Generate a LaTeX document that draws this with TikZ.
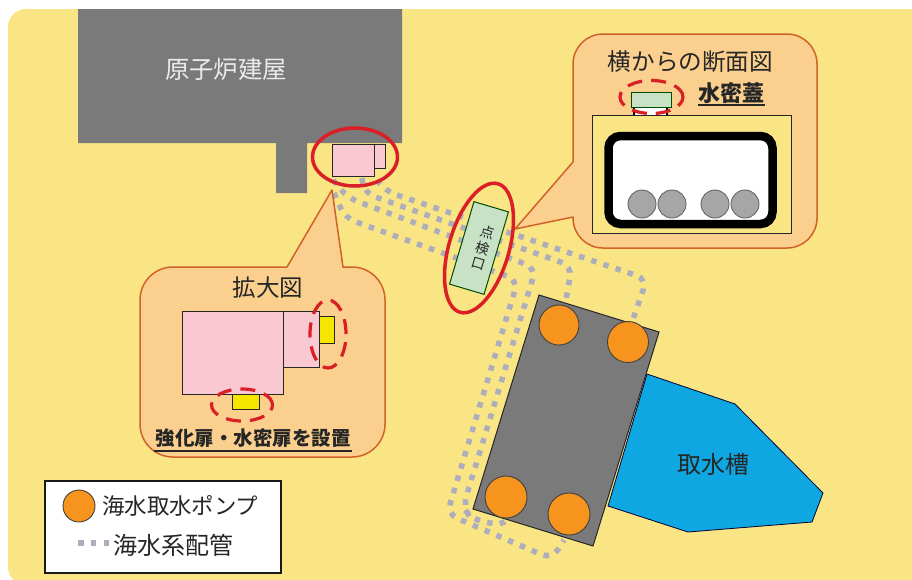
\documentclass[tikz,border=0pt]{standalone}
\usepackage{fontspec}
\setmainfont{Noto Sans CJK JP}
\usetikzlibrary{shapes.geometric}
\definecolor{bgyellow}{HTML}{F9E584}
\definecolor{bldgray}{HTML}{7A7A7A}
\definecolor{calloutfill}{HTML}{FBD08F}
\definecolor{calloutline}{HTML}{D2622A}
\definecolor{alarmred}{HTML}{DA1F26}
\definecolor{pinkroom}{HTML}{F9C8D0}
\definecolor{doorgold}{HTML}{F5E600}
\definecolor{hatchgreen}{HTML}{C8E2C6}
\definecolor{pumporange}{HTML}{F7941D}
\definecolor{pipegray}{HTML}{ADADBC}
\definecolor{waterblue}{HTML}{0FA7E2}
\definecolor{pipeball}{HTML}{A6A6A6}
\tikzset{
  txt/.style={inner sep=0pt,font=\fontsize{#1}{#1}\selectfont,text=black!85},
  pipeline/.style={draw=pipegray,line width=5.5pt,dash pattern=on 5.5pt off 7.3pt,rounded corners=11pt},
  callout/.style={draw=calloutline,fill=calloutfill,line width=1.5pt,line join=round},
  roomline/.style={draw=black!85,line width=1pt,fill=pinkroom},
  doorbox/.style={draw=black!85,line width=.8pt,fill=doorgold},
  redring/.style={ellipse,draw=alarmred,line width=3.5pt,inner sep=0pt},
  reddash/.style={ellipse,draw=alarmred,line width=3.2pt,inner sep=0pt,dash pattern=on 15pt off 9pt},
  pumpdot/.style={circle,draw=black!75,line width=.9pt,fill=pumporange,inner sep=0pt},
  ball/.style={circle,draw=black!60,line width=.9pt,fill=pipeball,inner sep=0pt,minimum size=28pt},
}
\begin{document}
\begin{tikzpicture}[x=1pt,y=-1pt]
\useasboundingbox (0,0) rectangle (912,579);
% ground
\fill[bgyellow,rounded corners=18pt] (8,9) rectangle (930,585);
% reactor building
\fill[bldgray] (78,9) -- (402,9) -- (402,143) -- (307,143) -- (307,193) -- (276,193) -- (276,143) -- (78,143) -- cycle;
\node[txt=24.4,text=white!92!black] (bldlabel) at (226,69) {原子炉建屋};
% pipes
\coordinate (p1a) at (377,180); \coordinate (p1b) at (385,191); \coordinate (p1c) at (647,279); \coordinate (p1d) at (632,322);
\coordinate (p2a) at (362,178); \coordinate (p2b) at (364,193); \coordinate (p2c) at (572,266); \coordinate (p2d) at (565,305);
\coordinate (p3a) at (333,180); \coordinate (p3b) at (348,198); \coordinate (p3c) at (536,268); \coordinate (p3d) at (463,507); \coordinate (p3e) at (471,519); \coordinate (p3f) at (505,526); \coordinate (p3g) at (509,518);
\coordinate (p4a) at (334,193); \coordinate (p4b) at (345,218); \coordinate (p4c) at (518,280); \coordinate (p4d) at (447,514); \coordinate (p4e) at (552,559); \coordinate (p4f) at (564,540);
\draw[pipeline] (p1a) -- (p1b) -- (p1c) -- (p1d);
\draw[pipeline] (p2a) -- (p2b) -- (p2c) -- (p2d);
\draw[pipeline] (p3a) -- (p3b) -- (p3c) -- (p3d) -- (p3e) -- (p3f) -- (p3g);
\draw[pipeline] (p4a) -- (p4b) -- (p4c) -- (p4d) -- (p4e) -- (p4f);
% pump pit and intake
\draw[draw=black!80!blue,fill=waterblue,line width=.8pt] (647,374) -- (735,404) -- (823,493) -- (812,522) -- (688,532) -- (608,506) -- cycle;
\draw[draw=black!85,fill=bldgray,line width=1pt] (539,295) -- (659,332) -- (593,546) -- (473,509) -- cycle;
\node[txt=24] (intake) at (713,464) {取水槽};
\node[pumpdot,minimum size=40pt] (pumpA) at (559,325) {};
\node[pumpdot,minimum size=41pt] (pumpB) at (628,342) {};
\node[pumpdot,minimum size=42pt] (pumpC) at (506,497) {};
\node[pumpdot,minimum size=42pt] (pumpD) at (569,514) {};
% building annex
\draw[roomline] (374,144) rectangle (385,168);
\draw[roomline] (332,144) rectangle (374,176);
\node[redring,minimum width=85pt,minimum height=58pt] (annexring) at (355,157) {};
% inspection hatch
\node[draw=black!70!green,fill=hatchgreen,line width=1pt,rotate=-16.5,minimum width=36pt,minimum height=86pt,inner sep=0pt] (hatch) at (479,248) {};
\node[rotate=-16.5,inner sep=0pt,font=\fontsize{14}{16}\selectfont,text=black!85,align=center] (hatchlabel) at (483,248) {点\\検\\口};
\node[redring,rotate=-16.5,minimum width=60pt,minimum height=134pt] (hatchring) at (479,248) {};
% left callout
\draw[callout] (287,267) -- (173,267) arc[start angle=-90,end angle=-180,x radius=33pt,y radius=-33pt] -- (140,424) arc[start angle=180,end angle=90,x radius=33pt,y radius=-33pt] -- (352,457) arc[start angle=90,end angle=0,x radius=33pt,y radius=-33pt] -- (385,300) arc[start angle=0,end angle=-90,x radius=33pt,y radius=-33pt] -- (343,267) -- (332,190) -- cycle;
\node[txt=23.5] (zoomtitle) at (268,288) {拡大図};
\draw[roomline] (283,311) rectangle (319,367);
\draw[roomline] (182,311) rectangle (283,394);
\draw[doorbox] (319,316) rectangle (334,343);
\draw[doorbox] (232,394) rectangle (259,409);
\node[reddash,minimum width=36pt,minimum height=68pt] (doorringR) at (328,334) {};
\node[reddash,minimum width=61pt,minimum height=32pt] (doorringB) at (242,405) {};
\node[txt=19.5,font=\fontsize{19.5}{20}\selectfont\bfseries] (doorlabel) at (253,438) {強化扉・水密扉を設置};
\draw[draw=black!85,line width=1.2pt] (154,451) -- (352,451);
% right callout
\draw[callout] (573,162) -- (515,229) -- (573,217) -- (573,218) arc[start angle=180,end angle=90,x radius=30pt,y radius=-30pt] -- (787,248) arc[start angle=90,end angle=0,x radius=30pt,y radius=-30pt] -- (817,64) arc[start angle=0,end angle=-90,x radius=30pt,y radius=-30pt] -- (603,34) arc[start angle=-90,end angle=-180,x radius=30pt,y radius=-30pt] -- cycle;
\node[txt=23.6] (crosstitle) at (690.5,62) {横からの断面図};
\node[txt=22,font=\fontsize{22}{22}\selectfont\bfseries] (lidlabel) at (731,93) {水密蓋};
\draw[draw=black!85,line width=1.2pt] (698,105) -- (765,105);
\draw[draw=black!85,fill=bgyellow,line width=.9pt] (592,115) rectangle (791,233);
\draw[draw=black,fill=white,line width=8.5pt,rounded corners=12pt] (608.5,136) rectangle (772.5,224);
\node[ball] (ballA) at (642,204) {};
\node[ball] (ballB) at (672,204) {};
\node[ball] (ballC) at (715,204) {};
\node[ball] (ballD) at (745,204) {};
\fill[white] (633,107) rectangle (668,115);
\draw[black,line width=2.5pt] (634,107) -- (634,115) (667,107) -- (667,115);
\node[reddash,minimum width=63pt,minimum height=33pt] (lidring) at (651.5,97) {};
\draw[draw=black!70!green,fill=hatchgreen,line width=1pt] (631,92) rectangle (671,107);
% legend
\draw[draw=black!90,fill=white,line width=1.3pt] (45,481) rectangle (281,573);
\node[pumpdot,minimum size=32pt] (legendpump) at (79,506) {};
\node[txt=22.4,anchor=west] (legendpumptxt) at (102,506) {海水取水ポンプ};
\coordinate (legpipeA) at (78,543); \coordinate (legpipeB) at (110,543);
\draw[pipeline,rounded corners=0pt] (legpipeA) -- (legpipeB);
\node[txt=24,anchor=west] (legendpipetxt) at (113,545) {海水系配管};
\end{tikzpicture}
\end{document}
